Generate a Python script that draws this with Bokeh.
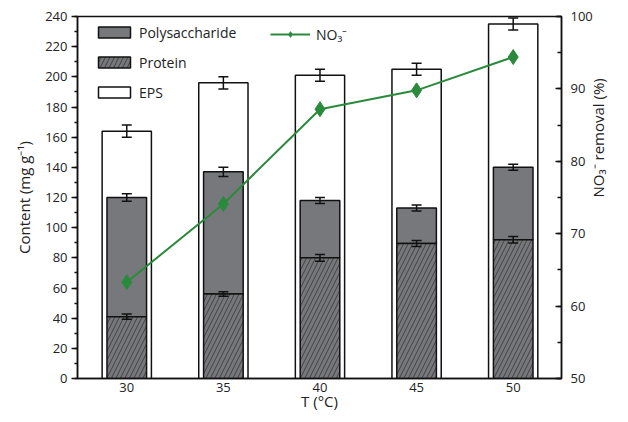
import math
from bokeh.plotting import figure
from bokeh.models import (ColumnDataSource, Range1d, LinearAxis, Whisker, TeeHead,
                          Legend, LegendItem, FixedTicker, SingleIntervalTicker)
from bokeh.embed import file_html
from bokeh.resources import INLINE

# ---- data ----
temps = [30, 35, 40, 45, 50]
eps = [164, 196, 201, 205, 235]
eps_err = [4, 4, 4, 4, 4]
poly_top = [120, 137, 118, 113, 140]
poly_err = [2.5, 3, 2, 2, 2]
protein = [41, 56, 80, 89.5, 92]
protein_err = [1.8, 1.5, 2.2, 2, 2.2]
no3_removal = [63.3, 74.1, 87.2, 89.8, 94.4]

FONT = "Open Sans"
GRAY = "#77787c"
GREEN = "#2a8a3c"

src = ColumnDataSource(dict(
    t=temps, eps=eps, eps_hi=[a + b for a, b in zip(eps, eps_err)],
    eps_lo=[a - b for a, b in zip(eps, eps_err)],
    poly=poly_top, poly_hi=[a + b for a, b in zip(poly_top, poly_err)],
    poly_lo=[a - b for a, b in zip(poly_top, poly_err)],
    prot=protein, prot_hi=[a + b for a, b in zip(protein, protein_err)],
    prot_lo=[a - b for a, b in zip(protein, protein_err)],
    no3=no3_removal,
))

p = figure(width=620, height=414, output_backend="svg", toolbar_location=None,
           x_range=Range1d(27.45, 52.5), y_range=Range1d(0, 240),
           min_border_left=77, min_border_right=53, min_border_top=16,
           min_border_bottom=36)
p.background_fill_color = "white"
p.border_fill_color = "white"
p.outline_line_color = "#111111"
p.outline_line_width = 1.5
p.xgrid.visible = False
p.ygrid.visible = False
p.extra_y_ranges = {"pct": Range1d(50, 100)}

# bars
r_eps = p.vbar(x="t", top="eps", width=2.55, source=src, fill_color="white",
               line_color="#111111", line_width=1.5)
r_poly = p.vbar(x="t", top="poly", bottom="prot", width=2.05, source=src,
                fill_color=GRAY, line_color="#111111", line_width=1.5)
r_prot = p.vbar(x="t", top="prot", width=2.05, source=src, fill_color=GRAY,
                line_color="#111111", line_width=1.5, hatch_pattern="/",
                hatch_color="#333333", hatch_scale=9, hatch_weight=0.8)

for lo, hi in (("eps_lo", "eps_hi"), ("poly_lo", "poly_hi"), ("prot_lo", "prot_hi")):
    w = Whisker(source=src, base="t", lower=lo, upper=hi, line_color="#111111",
                line_width=1.5, level="overlay",
                upper_head=TeeHead(size=10, line_color="#111111", line_width=1.5),
                lower_head=TeeHead(size=10, line_color="#111111", line_width=1.5))
    p.add_layout(w)

# line
r_line = p.line(x="t", y="no3", source=src, y_range_name="pct", line_color=GREEN,
                line_width=2)
r_pts = p.scatter(x="t", y="no3", source=src, y_range_name="pct", marker="diamond",
                  size=15, fill_color=GREEN, line_color=GREEN)

# axes
p.xaxis.ticker = FixedTicker(ticks=temps)
p.xaxis.major_tick_out = 0
p.xaxis.major_tick_in = 0
p.xaxis.minor_tick_out = 0
p.xaxis.axis_label = "T (°C)"
p.xaxis.major_label_standoff = 4
p.xaxis.axis_label_standoff = -4

p.yaxis.ticker = SingleIntervalTicker(interval=20, num_minor_ticks=2)
p.yaxis.major_tick_out = 6
p.yaxis.major_tick_in = 0
p.yaxis.minor_tick_out = 3
p.yaxis.minor_tick_in = 0
p.yaxis.axis_label = "Content (mg g⁻¹)"
p.yaxis.major_label_standoff = 4
p.yaxis.axis_label_standoff = 8

ra = LinearAxis(y_range_name="pct", axis_label="NO₃⁻ removal (%)",
                ticker=SingleIntervalTicker(interval=10, num_minor_ticks=2))
ra.major_tick_in = 6
ra.major_tick_out = 0
ra.minor_tick_in = 4
ra.minor_tick_out = 0
ra.major_label_standoff = 9
ra.axis_label_standoff = 2
ra.axis_label_orientation = math.pi / 2
p.add_layout(ra, "right")

for ax in (p.xaxis[0], p.yaxis[0], ra):
    ax.axis_line_color = "#111111"
    ax.axis_line_width = 1.5
    ax.major_tick_line_color = "#111111"
    ax.major_tick_line_width = 1.5
    ax.minor_tick_line_color = "#111111"
    ax.minor_tick_line_width = 1.5
    ax.major_label_text_font = FONT
    ax.major_label_text_font_size = "13px"
    ax.major_label_text_color = "#222222"
    ax.axis_label_text_font = FONT
    ax.axis_label_text_font_size = "15px"
    ax.axis_label_text_font_style = "normal"
    ax.axis_label_text_color = "#222222"

# legends
leg1 = Legend(items=[LegendItem(label="Polysaccharide", renderers=[r_poly]),
                     LegendItem(label="Protein", renderers=[r_prot]),
                     LegendItem(label="EPS", renderers=[r_eps])],
              location=(17, 276), glyph_width=40, glyph_height=14, label_height=20,
              spacing=10, padding=0, margin=0, label_standoff=5,
              border_line_alpha=0, background_fill_alpha=0,
              label_text_font=FONT, label_text_font_size="14px",
              label_text_color="#222222")
leg2 = Legend(items=[LegendItem(label="NO₃⁻", renderers=[r_line, r_pts])],
              location=(193, 334), glyph_width=40, glyph_height=14, label_height=20,
              spacing=10, padding=0, margin=0, label_standoff=6,
              border_line_alpha=0, background_fill_alpha=0,
              label_text_font=FONT, label_text_font_size="14px",
              label_text_color="#222222")
p.add_layout(leg1)
p.add_layout(leg2)

open("out.html", "w").write(file_html(p, INLINE))
